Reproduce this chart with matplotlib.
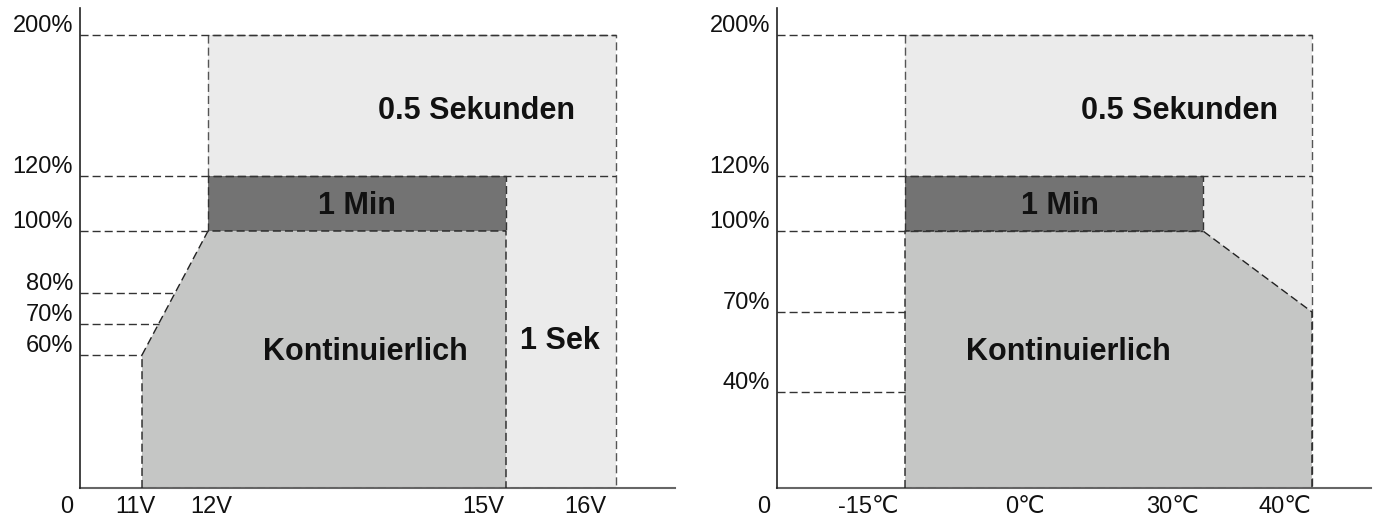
import numpy as np
import matplotlib
matplotlib.use('Agg')
import matplotlib.pyplot as plt
from matplotlib.transforms import ScaledTranslation

plt.rcParams['font.family'] = ['Liberation Sans', 'DejaVu Sans']

#### voltage derating ####
volt_ticks = [0, 11, 12, 15, 16]
volt_tick_labels = ['0', '11V', '12V', '15V', '16V']
volt_levels = [200, 120, 100, 80, 70, 60]
volt_level_labels = ['200%', '120%', '100%', '80%', '70%', '60%']
volt_cont_x = [11, 11, 12, 15, 15]        # Kontinuierlich outline
volt_cont_y = [0, 60, 100, 100, 0]
volt_min_x = [12, 15]                     # 1 Min band, 100..120 %
volt_short_x = [12, 16]                   # 0.5 s / 1 s envelope, 0..200 %

#### temperature derating ####
temp_ticks = [-40, -15, 0, 30, 40]
temp_tick_labels = ['0', '-15℃', '0℃', '30℃', '40℃']
temp_levels = [200, 120, 100, 70, 40]
temp_level_labels = ['200%', '120%', '100%', '70%', '40%']
temp_cont_x = [-15, -15, 30, 40, 40]
temp_cont_y = [0, 100, 100, 70, 0]
temp_min_x = [-15, 30]
temp_short_x = [-15, 40]

band_lo, band_hi, peak = 100, 120, 200

# schematic (non linear) axes: value breakpoints -> pixel distance from origin
volt_xmap = ([0, 11, 12, 15, 16, 17], [0, 62, 128, 426, 536, 595])
volt_ymap = ([0, 60, 70, 80, 100, 120, 200, 215], [0, 133, 164, 195, 257, 312, 453, 480])
temp_xmap = ([-40, -15, 0, 30, 40, 55], [0, 128, 248, 426, 535, 594])
temp_ymap = ([0, 40, 70, 100, 120, 200, 215], [0, 96, 176, 257, 312, 453, 480])

C_LIGHT = '#ebebeb'
C_MID = '#c5c6c5'
C_DARK = '#737373'
DASH = (0, (5.8, 2.9))


def piecewise(vals, pos):
    fwd = lambda v: np.interp(v, vals, pos)
    inv = lambda p: np.interp(p, pos, vals)
    return fwd, inv


def drawPanel(ax, xmap, ymap, ticks, tick_labels, tick_dx, levels, level_labels,
              cont_x, cont_y, min_x, short_x, labels):
    fx, ix = piecewise(*xmap)
    fy, iy = piecewise(*ymap)
    ax.set_xscale('function', functions=(fx, ix))
    ax.set_yscale('function', functions=(fy, iy))
    x0 = xmap[0][0]
    ax.set_xlim(x0, xmap[0][-1])
    ax.set_ylim(0, ymap[0][-1])

    # regions
    ax.fill([short_x[0], short_x[0], short_x[1], short_x[1]], [0, peak, peak, 0],
            color=C_LIGHT, lw=0, zorder=1)
    ax.fill(cont_x, cont_y, color=C_MID, lw=0, zorder=2)
    ax.fill([min_x[0], min_x[0], min_x[1], min_x[1]], [band_lo, band_hi, band_hi, band_lo],
            color=C_DARK, lw=0, zorder=2)

    # envelope outlines
    ax.plot([short_x[0], short_x[0], short_x[1], short_x[1], cont_x[0]],
            [band_hi, peak, peak, 0, 0], color='#555555', lw=1.0, ls=DASH, zorder=3)
    ax.plot(cont_x, cont_y, color='#222222', lw=1.0, ls=DASH, zorder=3)
    ax.plot([min_x[0], min_x[0], min_x[1], min_x[1]], [band_lo, band_hi, band_hi, band_lo],
            color='#333333', lw=1.0, ls=DASH, zorder=3)

    # reference lines from the axis to the region edge
    bx = fx(np.array(cont_x[:3], float))
    by = fy(np.array(cont_y[:3], float))
    for lv in levels:
        if lv >= band_hi:
            xe = short_x[1]
        else:
            xe = ix(np.interp(fy(lv), by, bx))
        ax.plot([x0, xe], [lv, lv], color='#333333', lw=1.0, ls=DASH, zorder=3)

    ax.set_xticks(ticks, tick_labels)
    ax.set_yticks(levels, level_labels)
    ax.tick_params(length=0, labelsize=17, colors='#111111')
    ax.tick_params(axis='x', pad=6)
    ax.tick_params(axis='y', pad=5)
    fig = ax.figure
    for lab, dx in zip(ax.get_xticklabels(), tick_dx):
        lab.set_transform(lab.get_transform() + ScaledTranslation(dx / 100, 0, fig.dpi_scale_trans))
    for lab in ax.get_yticklabels():
        lab.set_va('baseline')
        lab.set_transform(lab.get_transform() + ScaledTranslation(0, 3 / 100, fig.dpi_scale_trans))

    for s in ['top', 'right']:
        ax.spines[s].set_visible(False)
    ax.spines['left'].set_color('#222222')
    ax.spines['left'].set_linewidth(1.2)
    ax.spines['bottom'].set_color('#666666')
    ax.spines['bottom'].set_linewidth(1.5)
    ax.spines['left'].set_zorder(4)
    ax.spines['bottom'].set_zorder(2.5)

    for txt, (tx, ty) in labels:
        ax.text(tx, ty, txt, transform=ax.transAxes, ha='center', va='center',
                fontsize=22, fontweight='bold', color='#111111', zorder=5)


fig = plt.figure(figsize=(13.76, 5.2), dpi=100)
axL = fig.add_axes([80 / 1376, 32 / 520, 595 / 1376, 480 / 520])
axR = fig.add_axes([777 / 1376, 32 / 520, 594 / 1376, 480 / 520])

drawPanel(axL, volt_xmap, volt_ymap, volt_ticks, volt_tick_labels, [-13, -7, 3, -23, -31],
          volt_levels, volt_level_labels, volt_cont_x, volt_cont_y, volt_min_x, volt_short_x,
          [('0.5 Sekunden', (0.666, 0.785)), ('1 Min', (0.466, 0.588)),
           ('Kontinuierlich', (0.479, 0.283)), ('1 Sek', (0.807, 0.306))])
drawPanel(axR, temp_xmap, temp_ymap, temp_ticks, temp_tick_labels, [-13, -37, 0, -31, -27],
          temp_levels, temp_level_labels, temp_cont_x, temp_cont_y, temp_min_x, temp_short_x,
          [('0.5 Sekunden', (0.677, 0.785)), ('1 Min', (0.476, 0.588)),
           ('Kontinuierlich', (0.490, 0.283))])

fig.savefig('out.png', dpi=100)
